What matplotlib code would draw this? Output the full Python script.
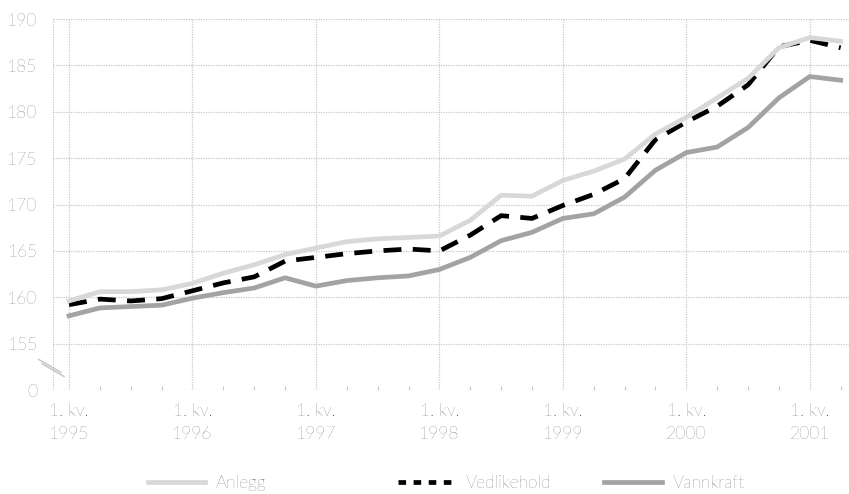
import matplotlib.pyplot as plt
from matplotlib.lines import Line2D
import matplotlib.transforms as mtransforms
import numpy as np

plt.rcParams['font.family'] = ['Lato', 'DejaVu Sans']
plt.rcParams['font.weight'] = 'light'

# quarterly index, 1. kv. 1995 .. 2. kv. 2001
anlegg = [159.6, 160.6, 160.6, 160.8, 161.5, 162.6, 163.5, 164.6, 165.3, 166.0,
          166.3, 166.45, 166.6, 168.3, 171.0, 170.9, 172.6, 173.6, 174.9, 177.6,
          179.4, 181.5, 183.6, 186.9, 188.0, 187.6]
vedlikehold = [159.2, 159.8, 159.6, 159.85, 160.7, 161.55, 162.2, 163.9, 164.3, 164.7,
               165.0, 165.2, 165.0, 166.7, 168.8, 168.5, 169.9, 171.1, 172.8, 177.0,
               178.9, 180.6, 182.9, 187.0, 187.7, 186.9]
vannkraft = [158.0, 158.85, 159.0, 159.15, 159.9, 160.5, 161.0, 162.1, 161.2, 161.8,
             162.1, 162.3, 163.0, 164.3, 166.1, 167.0, 168.5, 169.0, 170.8, 173.7,
             175.6, 176.2, 178.3, 181.5, 183.8, 183.4]
years = ['1995', '1996', '1997', '1998', '1999', '2000', '2001']
yticks = [150, 155, 160, 165, 170, 175, 180, 185, 190]
ylabels = ['0', '155', '160', '165', '170', '175', '180', '185', '190']

txt = '#3c3c3c'
grid_c = '#c8c8c8'

fig = plt.figure(figsize=(8.49, 4.94), dpi=100)
ax = fig.add_axes([0.0624, 0.2105, 0.9376, 0.751])

x = np.arange(len(anlegg))
lw = 3.4
ax.plot(x, vannkraft, color='#a3a3a3', lw=lw, zorder=3)
ax.plot(x, vedlikehold, color='black', lw=lw, dashes=(3.8, 2.4), zorder=4)
ax.plot(x, anlegg, color='#d8d8d8', lw=lw, zorder=5)

ax.set_xlim(-0.52, 25.27)
ax.set_ylim(150, 190)
for s in ax.spines.values():
    s.set_visible(False)

ax.set_yticks(yticks)
ax.set_yticklabels(ylabels)
ax.set_xticks(np.arange(0, 25, 4))
ax.set_xticklabels(['1. kv.\n' + y for y in years], linespacing=1.55)
ax.set_xticks(np.arange(0, 26), minor=True)
ax.tick_params(axis='both', which='major', length=0, labelsize=12.5, labelcolor=txt)
ax.tick_params(axis='y', pad=11)
ax.tick_params(axis='x', pad=9)
ax.tick_params(axis='x', which='minor', direction='in', length=3, color=grid_c, width=0.8)

for yv in yticks:
    ax.axhline(yv, color=grid_c, lw=0.9, ls=(0, (1, 1)), zorder=1)
for xv in list(range(0, 25, 4)) + [-0.52]:
    ax.axvline(xv, color=grid_c, lw=0.9, ls=(0, (1, 1)), zorder=1)

# axis break marks between 0 and 155
tr = mtransforms.blended_transform_factory(ax.transAxes, ax.transData)
for dx, dy in ((0, 0), (0.004, -0.45)):
    ax.plot([-0.018 + dx, 0.01 + dx], [153.3 + dy, 151.9 + dy], transform=tr,
            color='#c2c2c2', lw=1.0, clip_on=False)

fs = 12.5
h1 = Line2D([], [], color='#d8d8d8', lw=lw)
h2 = Line2D([], [], color='black', lw=lw, dashes=(1.6, 1.6))
h3 = Line2D([], [], color='#a3a3a3', lw=lw)
for h, lab, xp in [(h1, 'Anlegg', 0.174), (h2, 'Vedlikehold', 0.469), (h3, 'Vannkraft', 0.712)]:
    fig.legend(handles=[h], labels=[lab], loc='center left', bbox_to_anchor=(xp, 0.022),
               frameon=False, fontsize=fs, handlelength=3.3, handletextpad=0.6,
               borderaxespad=0, borderpad=0, labelcolor=txt)

fig.savefig('out.png', dpi=100)
